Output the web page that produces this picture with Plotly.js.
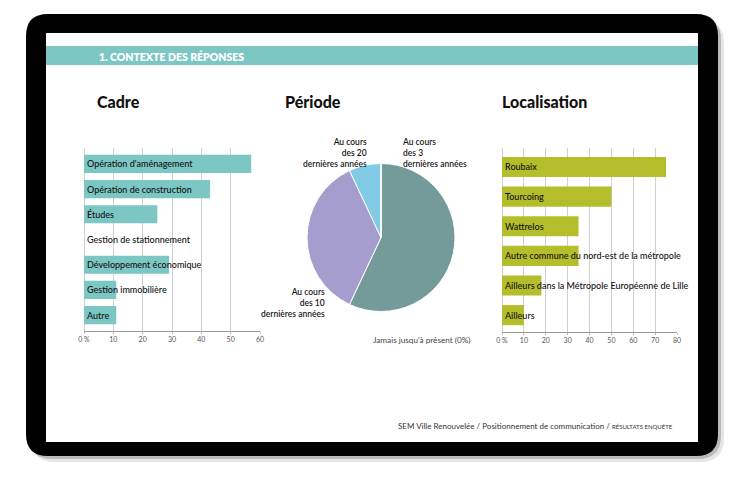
<!DOCTYPE html>
<html>
<head>
<meta charset="utf-8">
<script src="https://cdn.plot.ly/plotly-3.0.1.min.js"></script>
<style>html,body{margin:0;padding:0;background:#fff;}#chart{width:745px;height:477px;}</style>
</head>
<body>
<div id="chart"></div>
<script>
// ---- data ----
const cadreCategories = ["Opération d'aménagement", "Opération de construction", "Études", "Gestion de stationnement", "Développement économique", "Gestion immobilière", "Autre"];
const cadreValues = [57, 43, 25, 0, 29, 11, 11];
const cadreTicks = [0, 10, 20, 30, 40, 50, 60];
const cadreTickLabels = ["0 %", "10", "20", "30", "40", "50", "60"];

const periodeLabels = ["Au cours<br>des 3<br>dernières années", "Au cours<br>des 10<br>dernières années", "Au cours<br>des 20<br>dernières années", "Jamais jusqu'à présent (0%)"];
const periodeValues = [57, 36, 7, 0];

const locCategories = ["Roubaix", "Tourcoing", "Wattrelos", "Autre commune du nord-est de la métropole", "Ailleurs dans la Métropole Européenne de Lille", "Ailleurs"];
const locValues = [75, 50, 35, 35, 18, 10];
const locTicks = [0, 10, 20, 30, 40, 50, 60, 70, 80];
const locTickLabels = ["0 %", "10", "20", "30", "40", "50", "60", "70", "80"];

const chartTitles = ["Cadre", "Période", "Localisation"];
const headerText = "1. CONTEXTE DES RÉPONSES";
const footerText = "SEM Ville Renouvelée / Positionnement de communication / ";
const footerTail = "RÉSULTATS ENQUÊTE";

// ---- helpers (pixel -> paper) ----
const W = 745, H = 477;
const X = p => p / W;
const Y = p => 1 - p / H;
function roundRect(x0, y0, x1, y1, r) {
  const P = (x, y) => X(x) + ',' + Y(y);
  return 'M' + P(x0 + r, y0) + ' L' + P(x1 - r, y0) + ' Q' + P(x1, y0) + ' ' + P(x1, y0 + r) +
    ' L' + P(x1, y1 - r) + ' Q' + P(x1, y1) + ' ' + P(x1 - r, y1) +
    ' L' + P(x0 + r, y1) + ' Q' + P(x0, y1) + ' ' + P(x0, y1 - r) +
    ' L' + P(x0, y0 + r) + ' Q' + P(x0, y0) + ' ' + P(x0 + r, y0) + ' Z';
}
function rect(x0, y0, x1, y1, color, layer) {
  return {type: 'rect', xref: 'paper', yref: 'paper', x0: X(x0), x1: X(x1), y0: Y(y1), y1: Y(y0),
    fillcolor: color, line: {width: 0}, layer: layer || 'below'};
}

const TEAL = '#7cc6c3', GREEN = '#b4be2b';
const textFont = {family: 'Lato, "Open Sans", sans-serif', size: 9, color: '#111', weight: 500};
const tickFont = {family: 'Lato, sans-serif', size: 7, color: '#555'};

const traces = [
  {type: 'bar', orientation: 'h', x: cadreValues, y: cadreCategories, xaxis: 'x', yaxis: 'y',
   marker: {color: TEAL}, width: 0.72, hoverinfo: 'x+y'},
  {type: 'bar', orientation: 'h', x: locValues, y: locCategories, xaxis: 'x2', yaxis: 'y2',
   marker: {color: GREEN}, width: 0.68, hoverinfo: 'x+y'},
  {type: 'pie', labels: periodeLabels, values: periodeValues, sort: false, direction: 'clockwise', rotation: 0,
   marker: {colors: ['#749b99', '#a59dcd', '#82cbe6', '#cccccc'], line: {color: '#fff', width: 1}},
   textinfo: 'none', showlegend: false,
   domain: {x: [X(307), X(455)], y: [Y(312), Y(163)]}}
];

const annotations = [];
cadreCategories.forEach(c => annotations.push({xref: 'x', yref: 'y', x: 0, y: c, text: c, showarrow: false,
  xanchor: 'left', xshift: 1, font: textFont}));
locCategories.forEach(c => annotations.push({xref: 'x2', yref: 'y2', x: 0, y: c, text: c, showarrow: false,
  xanchor: 'left', xshift: 1, font: textFont}));

const titleFont = {family: 'Lato, sans-serif', size: 16, color: '#111', weight: 900};
[[95, chartTitles[0]], [283, chartTitles[1]], [500, chartTitles[2]]].forEach(([px, t]) =>
  annotations.push({xref: 'paper', yref: 'paper', x: X(px), y: Y(101), text: t, showarrow: false,
    xanchor: 'left', yanchor: 'middle', font: titleFont}));

const pieFont = {family: 'Lato, sans-serif', size: 8.5, color: '#1a1a1a', weight: 600};
annotations.push({xref: 'paper', yref: 'paper', x: X(400), y: Y(135), text: periodeLabels[0], showarrow: false,
  xanchor: 'left', yanchor: 'top', align: 'left', font: pieFont});
annotations.push({xref: 'paper', yref: 'paper', x: X(327), y: Y(285), text: periodeLabels[1], showarrow: false,
  xanchor: 'right', yanchor: 'top', align: 'right', font: pieFont});
annotations.push({xref: 'paper', yref: 'paper', x: X(369), y: Y(135), text: periodeLabels[2], showarrow: false,
  xanchor: 'right', yanchor: 'top', align: 'right', font: pieFont});
annotations.push({xref: 'paper', yref: 'paper', x: X(473), y: Y(340), text: periodeLabels[3], showarrow: false,
  xanchor: 'right', yanchor: 'middle', font: {family: 'Lato, sans-serif', size: 8.2, color: '#444'}});

annotations.push({xref: 'paper', yref: 'paper', x: X(97), y: Y(56.5), text: headerText, showarrow: false,
  xanchor: 'left', yanchor: 'middle', font: {family: 'Lato, sans-serif', size: 10.5, color: '#fff', weight: 800}});
annotations.push({xref: 'paper', yref: 'paper', x: X(675), y: Y(426), showarrow: false,
  text: footerText + '<span style="font-size:6px">' + footerTail + '</span>',
  xanchor: 'right', yanchor: 'middle', font: {family: 'Lato, sans-serif', size: 8, color: '#333'}});

const shapes = [
  {type: 'path', xref: 'paper', yref: 'paper', path: roundRect(31, 20, 724, 462, 24), fillcolor: 'rgba(0,0,0,0.10)', line: {width: 0}, layer: 'below'},
  {type: 'path', xref: 'paper', yref: 'paper', path: roundRect(29, 17, 721, 459, 23), fillcolor: 'rgba(0,0,0,0.18)', line: {width: 0}, layer: 'below'},
  {type: 'path', xref: 'paper', yref: 'paper', path: roundRect(26, 14, 718, 456, 22), fillcolor: '#000', line: {width: 0}, layer: 'below'},
  rect(46, 33, 698, 442, '#fff'),
  rect(46, 46, 698, 65, TEAL)
];

const gridColor = '#cfcfcf';
const layout = {
  width: W, height: H, margin: {l: 0, r: 0, t: 0, b: 0, pad: 0},
  paper_bgcolor: '#fff', plot_bgcolor: 'rgba(0,0,0,0)', showlegend: false, bargap: 0.3,
  xaxis: {domain: [X(84), X(260)], range: [0, 60], tickvals: cadreTicks, ticktext: cadreTickLabels,
    showgrid: true, gridcolor: gridColor, gridwidth: 1, zeroline: true, zerolinecolor: gridColor,
    showline: true, linecolor: '#999', linewidth: 1, ticks: 'outside', ticklen: 2, tickcolor: '#bbb', tickfont: tickFont, anchor: 'y', fixedrange: true},
  yaxis: {domain: [Y(331), Y(148)], range: [6.63, -0.63], type: 'category', showticklabels: false,
    showgrid: false, zeroline: false, anchor: 'x', fixedrange: true},
  xaxis2: {domain: [X(502), X(677)], range: [0, 80], tickvals: locTicks, ticktext: locTickLabels,
    showgrid: true, gridcolor: gridColor, gridwidth: 1, zeroline: true, zerolinecolor: gridColor,
    showline: true, linecolor: '#999', linewidth: 1, ticks: 'outside', ticklen: 2, tickcolor: '#bbb', tickfont: tickFont, anchor: 'y2', fixedrange: true},
  yaxis2: {domain: [Y(332), Y(148)], range: [5.57, -0.64], type: 'category', showticklabels: false,
    showgrid: false, zeroline: false, anchor: 'x2', fixedrange: true},
  shapes: shapes,
  annotations: annotations
};

Plotly.newPlot('chart', traces, layout, {displayModeBar: false, staticPlot: true});
</script>
</body>
</html>
